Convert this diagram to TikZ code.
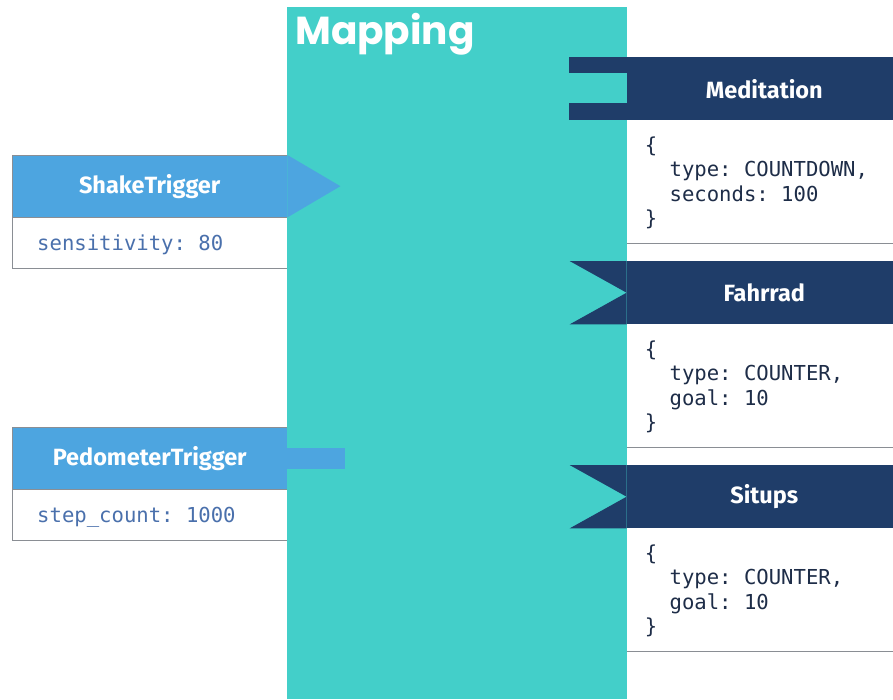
\documentclass[tikz,border=0pt]{standalone}
\usepackage{fontspec}
\setsansfont{Fira Sans}
\setmonofont{DejaVu Sans Mono}
\newfontfamily\titlefont{Poppins}
\usetikzlibrary{calc}
\definecolor{mapteal}{HTML}{43CFC9}
\definecolor{trigblue}{HTML}{4DA5E0}
\definecolor{actnavy}{HTML}{1F3D69}
\definecolor{trigtext}{HTML}{4A70AC}
\definecolor{acttext}{HTML}{1E2D48}
\definecolor{edgegray}{HTML}{8A8E94}
\tikzset{
  hdrtext/.style={text=white, font=\sffamily\bfseries\fontsize{23.5}{26}\selectfont, inner sep=0pt},
  trighdr/.style={hdrtext, fill=trigblue, minimum width=275pt, minimum height=62pt, anchor=north west},
  trigbody/.style={fill=white, minimum width=275pt, minimum height=51pt, anchor=north west, inner sep=0pt},
  acthdr/.style={hdrtext, fill=actnavy, minimum width=266pt, minimum height=63pt, anchor=north east},
  actbody/.style={fill=white, minimum width=266pt, minimum height=123pt, anchor=north west, inner sep=0pt},
  trigcode/.style={text=trigtext, font=\ttfamily\fontsize{20.6}{24}\selectfont, inner sep=0pt, anchor=base west},
  actcode/.style={text=acttext, font=\ttfamily\fontsize{20.6}{24.3}\selectfont, inner sep=0pt, anchor=north west, align=left},
  edgeline/.style={draw=edgegray, line width=1pt}
}
\newcommand{\codeind}{\phantom{xx}}
\begin{document}
\begin{tikzpicture}[x=1pt,y=-1pt]
\useasboundingbox (0,0) rectangle (893,699);
% Mapping column
\node[fill=mapteal, minimum width=340pt, minimum height=692pt, anchor=north west, inner sep=0pt] (map) at (287,7) {};
\node[anchor=base west, text=white, font=\titlefont\bfseries\fontsize{39}{39}\selectfont, inner sep=0pt] (maptitle) at (295,44) {Mapping};

% ShakeTrigger
\node[trighdr] (shake) at (12,155) {ShakeTrigger};
\fill[trigblue] (shake.north east) -- ($(shake.east)+(53,0)$) -- (shake.south east) -- cycle;
\node[trigbody] (shakebody) at (shake.south west) {};
\draw[edgeline] (shake.north east) -- (shake.north west) -- (shakebody.south west) -- (shakebody.south east);
\draw[edgeline] (shakebody.north west) -- (shakebody.north east);
\node[trigcode] (shakecode) at ($(shakebody.north west)+(25,33.5)$) {sensitivity: 80};

% PedometerTrigger
\node[trighdr] (ped) at (12,427) {PedometerTrigger};
\fill[trigblue] ($(ped.east)+(0,-10.5)$) rectangle ($(ped.east)+(58,10.5)$);
\node[trigbody] (pedbody) at (ped.south west) {};
\draw[edgeline] (ped.north east) -- (ped.north west) -- (pedbody.south west) -- (pedbody.south east);
\draw[edgeline] (pedbody.north west) -- (pedbody.north east);
\node[trigcode] (pedcode) at ($(pedbody.north west)+(25,33.5)$) {step\_count: 1000};

% Meditation
\node[acthdr] (med) at (893,57) {\hspace*{9pt}Meditation};
\fill[actnavy] (med.north west) rectangle ($(med.north west)+(-58,16)$);
\fill[actnavy] (med.south west) rectangle ($(med.south west)+(-58,-17)$);
\node[actbody] (medbody) at (med.south west) {};
\draw[edgeline] (medbody.south west) -- (medbody.south east);
\node[actcode] (medcode) at ($(medbody.north west)+(18,15)$) {\strut\{\\\strut\codeind type: COUNTDOWN,\\\strut\codeind seconds: 100\\\strut\}};

% Fahrrad
\node[acthdr] (fah) at (893,261) {\hspace*{9pt}Fahrrad};
\fill[actnavy] (fah.north west) -- ++(-57,0) -- (fah.west) -- ($(fah.south west)+(-57,0)$) -- (fah.south west) -- cycle;
\node[actbody] (fahbody) at (fah.south west) {};
\draw[edgeline] (fahbody.south west) -- (fahbody.south east);
\node[actcode] (fahcode) at ($(fahbody.north west)+(18,15)$) {\strut\{\\\strut\codeind type: COUNTER,\\\strut\codeind goal: 10\\\strut\}};

% Situps
\node[acthdr] (sit) at (893,465) {\hspace*{9pt}Situps};
\fill[actnavy] (sit.north west) -- ++(-57,0) -- (sit.west) -- ($(sit.south west)+(-57,0)$) -- (sit.south west) -- cycle;
\node[actbody] (sitbody) at (sit.south west) {};
\draw[edgeline] (sitbody.south west) -- (sitbody.south east);
\node[actcode] (sitcode) at ($(sitbody.north west)+(18,15)$) {\strut\{\\\strut\codeind type: COUNTER,\\\strut\codeind goal: 10\\\strut\}};
\end{tikzpicture}
\end{document}
